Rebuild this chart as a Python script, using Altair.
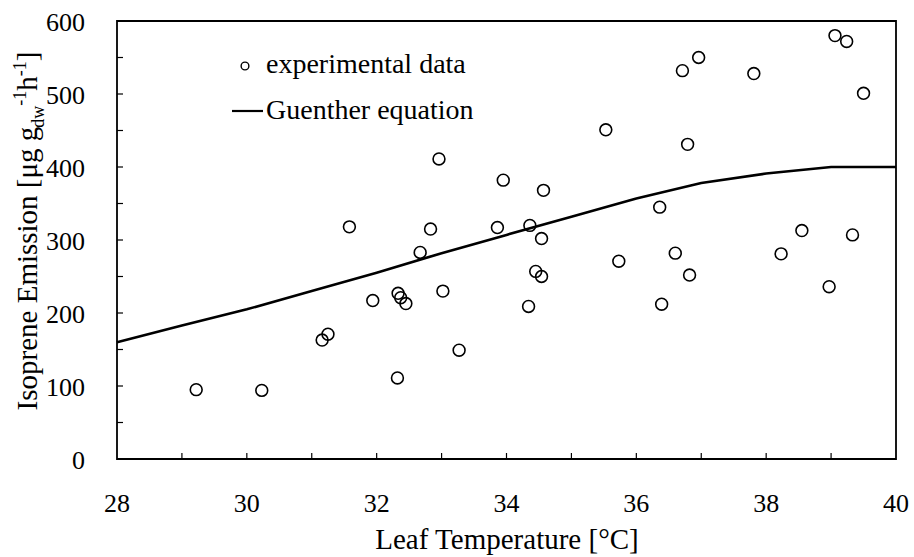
import altair as alt
import pandas as pd

# ---- data ----
temp = [29.22, 30.23, 31.16, 31.25, 31.58, 31.94, 32.33, 32.37, 32.45, 32.32, 32.67,
        32.83, 32.96, 33.02, 33.27, 33.95, 33.86, 34.57, 34.36, 34.54, 34.45, 34.54,
        34.34, 35.53, 35.73, 36.36, 36.60, 36.82, 36.39, 36.71, 36.96, 36.79, 37.81,
        38.23, 38.55, 38.97, 39.06, 39.24, 39.50, 39.33]
emis = [95, 94, 163, 171, 318, 217, 227, 221, 213, 111, 283,
        315, 411, 230, 149, 382, 317, 368, 320, 302, 257, 250,
        209, 451, 271, 345, 282, 252, 212, 532, 550, 431, 528,
        281, 313, 236, 580, 572, 501, 307]

curve_t = [28, 29, 30, 31, 32, 33, 34, 35, 36, 37, 38, 39, 40]
curve_e = [160, 183, 205, 230, 255, 282, 307, 332, 357, 378, 391, 400, 400]

x_labels = [28, 30, 32, 34, 36, 38, 40]
y_labels = [0, 100, 200, 300, 400, 500, 600]
x_minor = [29, 30, 31, 32, 33, 34, 35, 36, 37, 38, 39]
y_minor = [50, 100, 150, 200, 250, 300, 350, 400, 450, 500, 550]

legend_labels = ["experimental data", "Guenther equation"]
x_title = "Leaf Temperature [°C]"
y_title_parts = ["Isoprene Emission [μg g", "dw", "-1", "h", "-1", "]"]

# ---- styling ----
W, H = 779, 438
FONT = "Liberation Serif"
xs = alt.Scale(domain=[28, 40], nice=False, zero=False)
ys = alt.Scale(domain=[0, 600], nice=False, zero=True)

x_axis = alt.Axis(values=x_labels, ticks=False, domain=False, grid=False, labels=False,
                  title=x_title, titleBaseline="alphabetic", titleY=89,
                  titleFont=FONT, titleFontSize=29, titleFontWeight="normal", titleColor="black")

line = alt.Chart(pd.DataFrame({"t": curve_t, "e": curve_e})).mark_line(
    color="black", strokeWidth=2.6
).encode(x=alt.X("t:Q", scale=xs, axis=x_axis), y=alt.Y("e:Q", scale=ys, axis=None))

pts = alt.Chart(pd.DataFrame({"t": temp, "e": emis})).mark_point(
    shape="circle", filled=False, color="black", size=140, strokeWidth=1.6, opacity=1
).encode(x=alt.X("t:Q", scale=xs, axis=x_axis), y=alt.Y("e:Q", scale=ys, axis=None))

xt = alt.Chart(pd.DataFrame({"t": x_minor})).mark_rule(color="black", strokeWidth=1.2).encode(
    x=alt.X("t:Q", scale=xs, axis=x_axis), y=alt.value(H), y2=alt.value(H - 6))
yt = alt.Chart(pd.DataFrame({"e": y_minor})).mark_rule(color="black", strokeWidth=1.2).encode(
    y=alt.Y("e:Q", scale=ys, axis=None), x=alt.value(0), x2=alt.value(6))

# tick labels as text marks (serif font)
xl = alt.Chart(pd.DataFrame({"t": x_labels})).mark_text(
    font=FONT, fontSize=26, color="black", align="center", baseline="alphabetic"
).encode(x=alt.X("t:Q", scale=xs, axis=x_axis), y=alt.value(H + 53), text=alt.Text("t:Q", format="d"))
yl = alt.Chart(pd.DataFrame({"e": y_labels})).mark_text(
    font=FONT, fontSize=26, color="black", align="right", baseline="alphabetic", dy=10
).encode(y=alt.Y("e:Q", scale=ys, axis=None), x=alt.value(-32), text=alt.Text("e:Q", format="d"))

# legend (manual)
leg_pt = alt.Chart(pd.DataFrame({"k": [0]})).mark_point(
    shape="circle", filled=False, color="black", size=60, strokeWidth=1.4, opacity=1
).encode(x=alt.value(128), y=alt.value(45))
leg_ln = alt.Chart(pd.DataFrame({"k": [0]})).mark_rule(color="black", strokeWidth=2.2).encode(
    x=alt.value(115), x2=alt.value(146), y=alt.value(90))
leg_tx = alt.Chart(pd.DataFrame({"s": legend_labels, "yy": [52, 98]})).mark_text(
    font=FONT, fontSize=28, color="black", align="left", baseline="alphabetic"
).encode(text="s:N", x=alt.value(149), y=alt.Y("yy:Q", scale=None))

# y title built from pieces (main text, subscript, superscripts)
em = {"I": .333, "s": .389, "o": .5, "p": .5, "r": .333, "e": .444, "n": .5, " ": .25,
      "E": .611, "m": .778, "i": .278, "[": .333, "μ": .5, "g": .5, "d": .5, "w": .722,
      "-": .333, "1": .5, "h": .5, "]": .333}
sizes = [29, 18, 18, 29, 18, 29]
shifts = [0, 7, -11, 0, -11, 0]
widths = [sum(em.get(c, .5) for c in s) * fs for s, fs in zip(y_title_parts, sizes)]
total = sum(widths)
start = 210 + total / 2
BASE_X = -80
ytitle_layers = []
acc = 0
for s, fs, sh, w in zip(y_title_parts, sizes, shifts, widths):
    ytitle_layers.append(
        alt.Chart(pd.DataFrame({"s": [s]})).mark_text(
            font=FONT, fontSize=fs, color="black", align="left", baseline="alphabetic", angle=270
        ).encode(text="s:N", x=alt.value(BASE_X + sh), y=alt.value(start - acc))
    )
    acc += w

chart = alt.layer(line, pts, xt, yt, xl, yl, leg_pt, leg_ln, leg_tx, *ytitle_layers).properties(
    width=W, height=H,
    autosize=alt.AutoSizeParams(type="none"),
    padding={"left": 117, "top": 21, "right": 18, "bottom": 98},
    background="white",
).configure_view(stroke="black", strokeWidth=1.8)

chart.save("out.html", embed_options={"renderer": "svg", "actions": False})
